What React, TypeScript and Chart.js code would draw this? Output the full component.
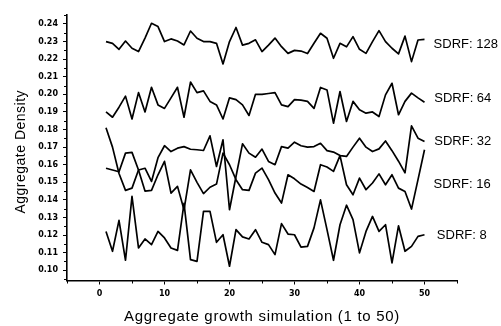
import React, { useEffect, useRef } from 'react';
import { Chart, registerables } from 'chart.js';

Chart.register(...registerables);

// Simulation index (1 to 50)
const simulations: number[] = Array.from({ length: 50 }, (_, i) => i + 1);

const seriesNames = ['SDRF: 128', 'SDRF: 64', 'SDRF: 32', 'SDRF: 16', 'SDRF: 8'];
const xTitle = 'Aggregate growth simulation (1 to 50)';
const yTitle = 'Aggregate Density';

const sdrf128 = [0.230, 0.229, 0.2256, 0.2303, 0.2262, 0.2243, 0.232, 0.2404, 0.2385, 0.230,
  0.2315, 0.2303, 0.2281, 0.236, 0.2319, 0.230, 0.230, 0.229, 0.2173, 0.230,
  0.238, 0.228, 0.229, 0.231, 0.2243, 0.228, 0.232, 0.2271, 0.2233, 0.225,
  0.2246, 0.2232, 0.229, 0.2347, 0.2319, 0.2205, 0.229, 0.227, 0.2328, 0.2256,
  0.2233, 0.230, 0.2362, 0.230, 0.2262, 0.223, 0.2331, 0.2186, 0.2309, 0.2312];

const sdrf64 = [0.190, 0.187, 0.1927, 0.199, 0.186, 0.201, 0.190, 0.204, 0.194, 0.192,
  0.198, 0.204, 0.187, 0.207, 0.201, 0.202, 0.196, 0.194, 0.186, 0.198,
  0.197, 0.194, 0.188, 0.200, 0.200, 0.2005, 0.201, 0.194, 0.193, 0.197,
  0.1967, 0.196, 0.192, 0.2039, 0.2025, 0.1836, 0.2016, 0.1846, 0.196, 0.1912,
  0.1893, 0.190, 0.1874, 0.1997, 0.2063, 0.1884, 0.196, 0.2007, 0.198, 0.1955];

const sdrf32 = [0.181, 0.170, 0.155, 0.1454, 0.1467, 0.157, 0.158, 0.1505, 0.164, 0.1708,
  0.1675, 0.1694, 0.1703, 0.1688, 0.1685, 0.1681, 0.1764, 0.159, 0.1742, 0.1344,
  0.1533, 0.1719, 0.1666, 0.1643, 0.1689, 0.1619, 0.160, 0.1703, 0.1694, 0.1728,
  0.1708, 0.170, 0.1703, 0.1722, 0.168, 0.1672, 0.1652, 0.1647, 0.170, 0.1751,
  0.170, 0.1675, 0.169, 0.1735, 0.168, 0.162, 0.1554, 0.1821, 0.1751, 0.1732];

const sdrf16 = [0.158, 0.157, 0.156, 0.1666, 0.167, 0.157, 0.145, 0.1454, 0.1543, 0.1619,
  0.1439, 0.1477, 0.1344, 0.1571, 0.1500, 0.1436, 0.1472, 0.149, 0.1666, 0.160,
  0.1515, 0.1458, 0.1454, 0.1552, 0.1581, 0.1515, 0.1439, 0.1382, 0.1543, 0.152,
  0.149, 0.147, 0.1448, 0.160, 0.1587, 0.1562, 0.1652, 0.1486, 0.1429, 0.1524,
  0.1458, 0.1496, 0.1548, 0.1486, 0.1543, 0.1467, 0.1448, 0.1348, 0.1515, 0.1685];

const sdrf8 = [0.1221, 0.1108, 0.1284, 0.1057, 0.142, 0.1127, 0.1178, 0.1146, 0.1221, 0.1184,
  0.1127, 0.1113, 0.138, 0.1061, 0.1051, 0.1335, 0.1335, 0.1159, 0.1202, 0.1023,
  0.1231, 0.119, 0.1178, 0.1231, 0.1159, 0.1146, 0.1089, 0.1265, 0.1206, 0.1202,
  0.1132, 0.1136, 0.1241, 0.140, 0.1231, 0.1057, 0.1259, 0.137, 0.1288, 0.1099,
  0.1221, 0.1306, 0.1221, 0.1259, 0.1042, 0.1253, 0.1108, 0.1136, 0.1193, 0.1202];

const xTickValues = [0, 10, 20, 30, 40, 50];
const xMinorValues = [-5, 5, 15, 25, 35, 45, 55];
const yTickValues = [0.10, 0.11, 0.12, 0.13, 0.14, 0.15, 0.16, 0.17, 0.18, 0.19, 0.20, 0.21, 0.22, 0.23, 0.24];
const yMinorValues = [0.095, 0.105, 0.115, 0.125, 0.135, 0.145, 0.155, 0.165, 0.175, 0.185, 0.195, 0.205, 0.215, 0.225, 0.235, 0.245];

const allSeries = [sdrf128, sdrf64, sdrf32, sdrf16, sdrf8];

export default function App() {
  const ref = useRef<HTMLCanvasElement | null>(null);

  useEffect(() => {
    if (!ref.current) return;

    const minorTicks = {
      id: 'minorTicks',
      afterDraw(chart: any) {
        const { ctx, chartArea } = chart;
        const xs = chart.scales.x;
        const ys = chart.scales.y;
        ctx.save();
        ctx.strokeStyle = '#000';
        ctx.lineWidth = 1;
        ctx.beginPath();
        xMinorValues.forEach((v) => {
          const px = Math.round(xs.getPixelForValue(v)) + 0.5;
          ctx.moveTo(px, chartArea.bottom);
          ctx.lineTo(px, chartArea.bottom + 3);
        });
        yMinorValues.forEach((v) => {
          const py = Math.round(ys.getPixelForValue(v)) + 0.5;
          ctx.moveTo(chartArea.left - 3, py);
          ctx.lineTo(chartArea.left, py);
        });
        ctx.stroke();
        ctx.restore();
      },
    };

    // label anchors in data coordinates
    const labelAnchors = [
      { x: 51.4, y: 0.2283 },
      { x: 51.5, y: 0.1978 },
      { x: 51.5, y: 0.1732 },
      { x: 51.4, y: 0.1486 },
      { x: 51.9, y: 0.1197 },
    ];

    const seriesLabels = {
      id: 'seriesLabels',
      afterDraw(chart: any) {
        const { ctx, chartArea } = chart;
        const xs = chart.scales.x;
        const ys = chart.scales.y;
        ctx.save();
        ctx.fillStyle = '#000';
        ctx.font = '13px "Liberation Sans", Arial, sans-serif';
        ctx.textAlign = 'left';
        ctx.textBaseline = 'middle';
        seriesNames.forEach((name, i) => {
          ctx.fillText(name, xs.getPixelForValue(labelAnchors[i].x), ys.getPixelForValue(labelAnchors[i].y));
        });
        // axis titles (letter-spaced like the original)
        ctx.textAlign = 'center';
        ctx.font = '15px "Liberation Sans", Arial, sans-serif';
        (ctx as any).letterSpacing = '0.7px';
        ctx.fillText(xTitle, (chartArea.left + chartArea.right) / 2, 317);
        ctx.font = '14px "Liberation Sans", Arial, sans-serif';
        (ctx as any).letterSpacing = '0.5px';
        ctx.translate(21, (chartArea.top + chartArea.bottom) / 2 + 4);
        ctx.rotate(-Math.PI / 2);
        ctx.fillText(yTitle, 0, 0);
        (ctx as any).letterSpacing = '0px';
        ctx.restore();
      },
    };

    const chart = new Chart(ref.current, {
      type: 'line',
      data: {
        datasets: allSeries.map((s, i) => ({
          label: seriesNames[i],
          data: s.map((v, j) => ({ x: simulations[j], y: v })),
          borderColor: '#000',
          borderWidth: 1.7,
          pointRadius: 0,
          tension: 0,
          fill: false,
          borderJoinStyle: 'round' as const,
        })),
      },
      options: {
        responsive: false,
        animation: false,
        layout: { padding: { left: 0, top: 15, right: 44, bottom: 0 } },
        plugins: {
          legend: { display: false },
          tooltip: { enabled: false },
        },
        scales: {
          x: {
            type: 'linear',
            min: -5,
            max: 55,
            afterBuildTicks: (s: any) => {
              s.ticks = xTickValues.map((v) => ({ value: v }));
            },
            afterFit: (s: any) => {
              s.height = 45.5;
            },
            grid: { drawOnChartArea: false, drawTicks: true, tickLength: 4, color: '#000', lineWidth: 1 },
            border: { display: true, color: '#000', width: 1.6 },
            ticks: {
              color: '#000',
              font: { family: '"DejaVu Sans"', size: 8, weight: 'bold' },
              padding: 5,
              maxRotation: 0,
              autoSkip: false,
              callback: (v: any) => String(v),
            },
            title: { display: false },
          },
          y: {
            type: 'linear',
            min: 0.0942,
            max: 0.2451,
            afterBuildTicks: (s: any) => {
              s.ticks = yTickValues.map((v) => ({ value: v }));
            },
            afterFit: (s: any) => {
              s.width = 67;
            },
            grid: { drawOnChartArea: false, drawTicks: true, tickLength: 4, color: '#000', lineWidth: 1 },
            border: { display: true, color: '#000', width: 1.6 },
            ticks: {
              color: '#000',
              font: { family: '"DejaVu Sans"', size: 8, weight: 'bold' },
              padding: 5,
              autoSkip: false,
              callback: (v: any) => Number(v).toFixed(2),
            },
            title: { display: false },
          },
        },
      },
      plugins: [minorTicks, seriesLabels],
    });

    return () => chart.destroy();
  }, []);

  return (
    <div style={{ position: 'fixed', left: 0, top: 0, width: 501, height: 326, background: '#fff' }}>
      <canvas ref={ref} width={501} height={326} style={{ display: 'block', width: 501, height: 326 }} />
    </div>
  );
}
